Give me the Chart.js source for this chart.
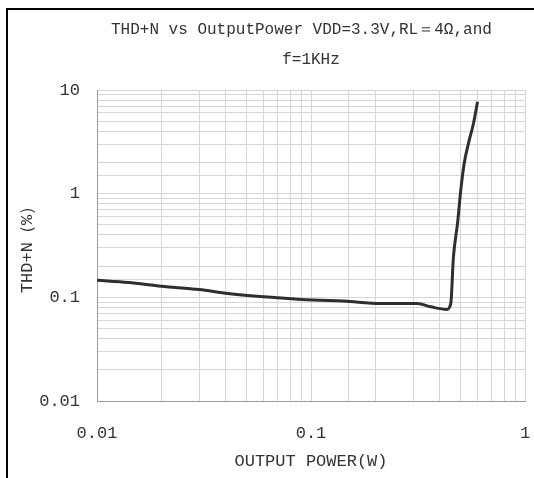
<!DOCTYPE html>
<html>
<head>
<meta charset="utf-8">
<script src="https://cdn.jsdelivr.net/npm/chart.js@4"></script>
<style>
    body { margin: 0; background: #fff; }
    #wrap { position: relative; width: 534px; height: 478px; overflow: hidden; }
    #frame {
        position: absolute; left: 6px; top: 8px; width: 600px; height: 600px;
        border-left: 2px solid #000; border-top: 2px solid #000; pointer-events: none;
    }
</style>
</head>
<body>
<div id="wrap">
    <canvas id="thdChart" width="534" height="478"></canvas>
    <div id="frame"></div>
</div>
<script>
// --- Data ---
const outputPower = [0.01, 0.014, 0.020, 0.030, 0.041, 0.070, 0.103, 0.142, 0.212, 0.314, 0.363, 0.431, 0.450, 0.463, 0.484, 0.501, 0.520, 0.549, 0.575, 0.600];
const thdValues   = [0.146, 0.139, 0.128, 0.119, 0.109, 0.099, 0.094, 0.092, 0.087, 0.087, 0.081, 0.0765, 0.0875, 0.245, 0.52, 1.08, 1.97, 3.29, 4.8, 7.7];

const xTickLabels = ['0.01', '0.1', '1'];
const yTickLabels = ['0.01', '0.1', '1', '10'];

const monoFont = "'Liberation Mono', 'DejaVu Sans Mono', monospace";

// Hanya tampilkan label pada dekade
function decadeLabel(list) {
    return function (value) {
        const hit = list.find(t => Math.abs(parseFloat(t) - value) < value * 1e-6);
        return hit || '';
    };
}

const points = outputPower.map((x, i) => ({ x: x, y: thdValues[i] }));

new Chart(document.getElementById('thdChart'), {
    type: 'line',
    data: {
        datasets: [{
            data: points,
            borderColor: '#2e2e2e',
            borderWidth: 3,
            pointRadius: 0,
            cubicInterpolationMode: 'monotone',
            fill: false
        }]
    },
    options: {
        responsive: false,
        animation: false,
        layout: { padding: { left: 0, right: 9, top: 0, bottom: 0 } },
        plugins: {
            legend: { display: false },
            tooltip: { enabled: false },
            title: {
                display: true,
                fullSize: false,
                text: ['THD+N vs OutputPower VDD=3.3V,RL＝4Ω,and  ', 'f=1KHz'],
                color: '#333',
                font: { family: monoFont, size: 16, weight: 'normal', lineHeight: '30px' },
                padding: { top: 15, bottom: 15 }
            }
        },
        scales: {
            x: {
                type: 'logarithmic',
                min: 0.01,
                max: 1,
                afterFit: scale => {
                    scale.height = 77;
                    scale.paddingLeft = 0;
                    scale.paddingRight = 0;
                },
                grid: { color: '#d6d6d6', drawTicks: false },
                border: { color: '#9a9a9a' },
                ticks: {
                    autoSkip: false,
                    maxRotation: 0,
                    padding: 22,
                    color: '#333',
                    font: { family: monoFont, size: 17 },
                    callback: decadeLabel(xTickLabels)
                },
                title: {
                    display: true,
                    text: 'OUTPUT POWER(W)',
                    color: '#333',
                    font: { family: monoFont, size: 17 },
                    padding: { top: 0, bottom: 6 }
                }
            },
            y: {
                type: 'logarithmic',
                min: 0.01,
                max: 10,
                afterFit: scale => { scale.width = 97; },
                grid: { color: '#d6d6d6', drawTicks: false },
                border: { color: '#9a9a9a' },
                ticks: {
                    autoSkip: false,
                    padding: 17,
                    color: '#333',
                    font: { family: monoFont, size: 17 },
                    callback: decadeLabel(yTickLabels)
                },
                title: {
                    display: true,
                    text: 'THD+N（%）',
                    color: '#333',
                    font: { family: monoFont, size: 17 },
                    padding: { top: 17, bottom: 0 }
                }
            }
        }
    }
});
</script>
</body>
</html>
